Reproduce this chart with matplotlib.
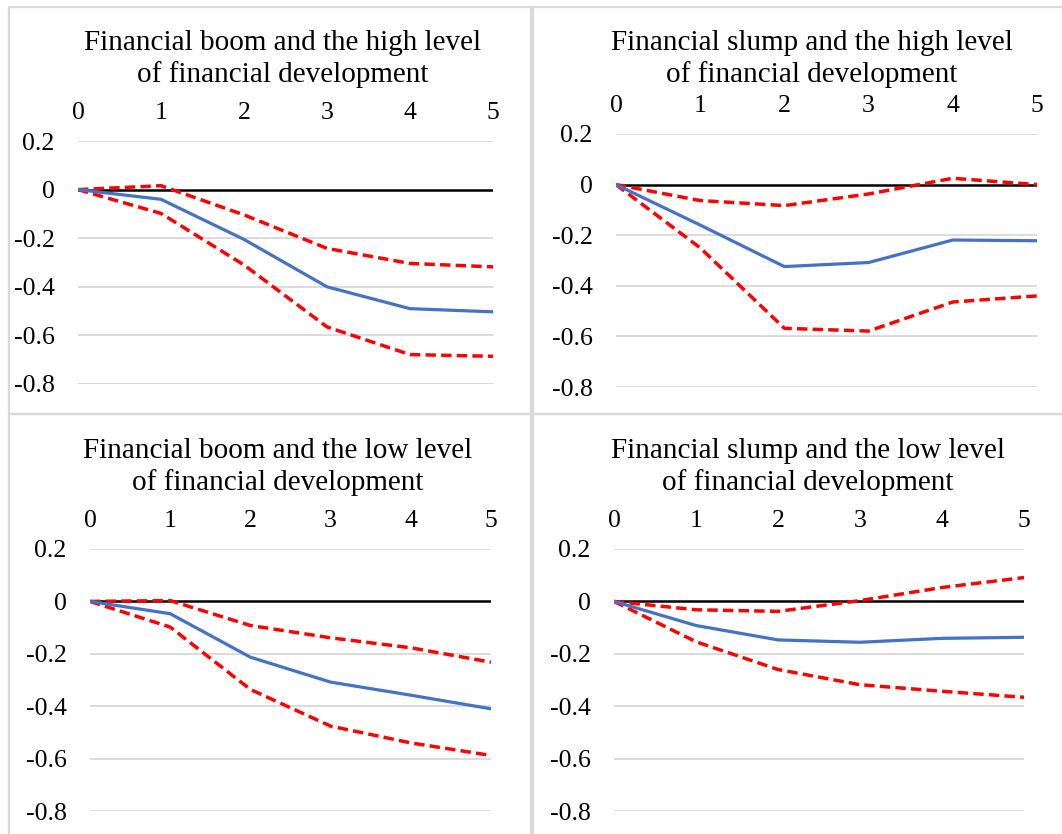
import matplotlib
matplotlib.use("Agg")
import matplotlib.pyplot as plt
from matplotlib.patches import Rectangle

plt.rcParams['font.family'] = ['Liberation Serif', 'DejaVu Serif']

horizons = [0, 1, 2, 3, 4, 5]

titles = [
    "Financial boom and the high level\nof financial development",
    "Financial slump and the high level\nof financial development",
    "Financial boom and the low level\nof financial development",
    "Financial slump and the low level\nof financial development",
]

# Panel 1: boom, high development
boom_high_irf = [0, -0.04, -0.205, -0.40, -0.49, -0.503]
boom_high_upper = [0, 0.016, -0.104, -0.242, -0.304, -0.318]
boom_high_lower = [0, -0.098, -0.31, -0.565, -0.679, -0.686]

# Panel 2: slump, high development
slump_high_irf = [0, -0.16, -0.324, -0.308, -0.219, -0.222]
slump_high_upper = [0, -0.063, -0.083, -0.037, 0.025, 0.0]
slump_high_lower = [0, -0.25, -0.568, -0.579, -0.464, -0.44]

# Panel 3: boom, low development
boom_low_irf = [0, -0.047, -0.213, -0.308, -0.358, -0.41]
boom_low_upper = [0, 0.003, -0.092, -0.139, -0.177, -0.232]
boom_low_lower = [0, -0.098, -0.336, -0.476, -0.54, -0.588]

# Panel 4: slump, low development
slump_low_irf = [0, -0.092, -0.147, -0.156, -0.141, -0.137]
slump_low_upper = [0, -0.032, -0.038, 0.003, 0.053, 0.091]
slump_low_lower = [0, -0.154, -0.26, -0.318, -0.343, -0.366]

yticks = [0.2, 0, -0.2, -0.4, -0.6, -0.8]
ytick_labels = ["0.2", "0", "-0.2", "-0.4", "-0.6", "-0.8"]

series = [
    (boom_high_irf, boom_high_upper, boom_high_lower),
    (slump_high_irf, slump_high_upper, slump_high_lower),
    (boom_low_irf, boom_low_upper, boom_low_lower),
    (slump_low_irf, slump_low_upper, slump_low_lower),
]

W, H = 1062, 834
fig = plt.figure(figsize=(W / 100, H / 100), dpi=100)

# axes boxes in pixels: (x0, x1, ytop, ybottom)
boxes = [
    (78, 493, 141, 384),
    (616, 1037, 134, 387),
    (90, 491, 549, 811),
    (614, 1024, 549, 811),
]
# title centre x, last-line baseline y (pixels)
title_pos = [(283, 82), (812, 82), (278, 490), (808, 490)]

# panel borders
border_color = "#d9d9d9"
for (x0, y0, x1, y1) in [(9, 7, 531, 414), (533, 7, 1070, 414),
                         (9, 414, 531, 840), (533, 414, 1070, 840)]:
    fig.patches.append(Rectangle((x0 / W, 1 - y1 / H), (x1 - x0) / W, (y1 - y0) / H,
                                 transform=fig.transFigure, fill=False,
                                 edgecolor=border_color, linewidth=1.6, zorder=0))

for i, (irf, up, lo) in enumerate(series):
    x0, x1, yt, yb = boxes[i]
    ax = fig.add_axes([x0 / W, 1 - yb / H, (x1 - x0) / W, (yb - yt) / H])
    ax.set_xlim(0, 5)
    ax.set_ylim(-0.8, 0.2)
    for y in yticks:
        if y != 0:
            ax.axhline(y, color="#d9d9d9", lw=1.3, zorder=1)
    ax.axhline(0, color="black", lw=1.8, zorder=2)
    ax.plot(horizons, irf, color="#4472C4", lw=2.3, zorder=4)
    ax.plot(horizons, up, color="#FF0000", lw=2.5, ls=(0, (3.0, 1.5)), zorder=3)
    ax.plot(horizons, lo, color="#FF0000", lw=2.5, ls=(0, (3.0, 1.5)), zorder=3)
    ax.set_yticks(yticks)
    ax.set_yticklabels(ytick_labels)
    ax.set_xticks(horizons)
    ax.set_xticklabels([str(h) for h in horizons])
    ax.xaxis.tick_top()
    ax.tick_params(axis="x", length=0, pad=12, labelsize=18.5)
    ax.tick_params(axis="y", length=0, pad=17, labelsize=18.5)
    for s in ax.spines.values():
        s.set_visible(False)
    ax.set_facecolor("none")
    tx, ty = title_pos[i]
    fig.text(tx / W, 1 - ty / H, titles[i], ha="center", va="baseline",
             fontsize=21, linespacing=1.25, multialignment="center")

fig.savefig("out.png", dpi=100)
